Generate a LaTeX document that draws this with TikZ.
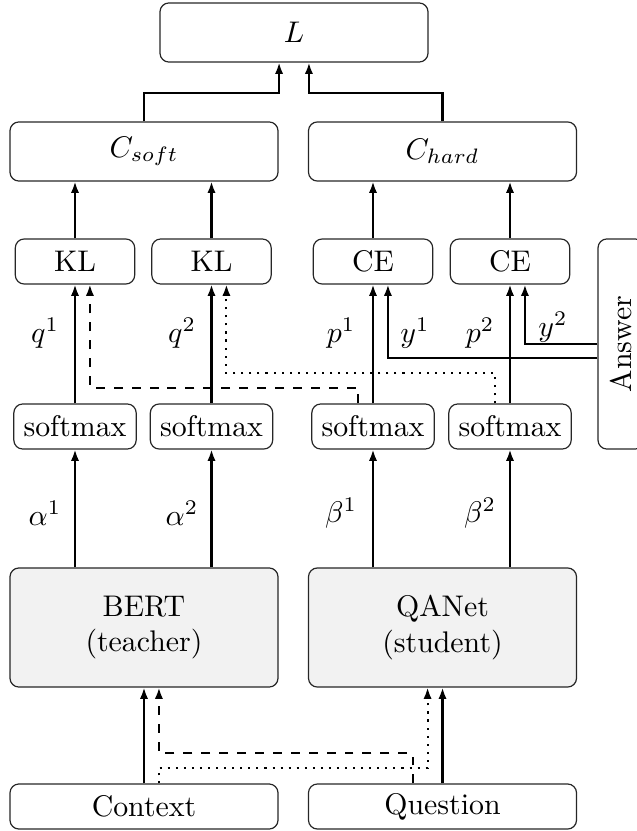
\documentclass[tikz,border=0pt]{standalone}
\usetikzlibrary{arrows.meta}
\begin{document}
\begin{tikzpicture}[x=0.335pt,y=-0.335pt]
        \tikzstyle{box}=[draw=black!85,rounded corners=3pt,inner sep=0pt,align=center]
        \tikzstyle{bigbox}=[box,minimum width=89.8pt,minimum height=19.8pt]
        \tikzstyle{lossbox}=[box,minimum width=40pt,minimum height=15.1pt]
        \tikzstyle{smbox}=[box,minimum width=41pt,minimum height=15.1pt]
        \tikzstyle{model}=[box,fill=black!5,minimum width=89.8pt,minimum height=39.9pt]
        \tikzstyle{arr}=[line width=0.7pt,-{Latex[length=3.8pt,width=2.8pt]}]

        \useasboundingbox (0,0) rectangle (637,831);

        % losses
        \node[bigbox] (loss) at (294,32.5) {$L$};
        \node[bigbox] (csoft) at (144,151.5) {$C_{soft}$};
        \node[bigbox] (chard) at (442.5,151.5) {$C_{hard}$};

        \node[lossbox] (kla) at (75,261.5) {KL};
        \node[lossbox] (klb) at (211.5,261.5) {KL};
        \node[lossbox] (cea) at (373,261.5) {CE};
        \node[lossbox] (ceb) at (510,261.5) {CE};
        \node[box,rotate=90,minimum width=70.4pt,minimum height=15.4pt] (ans) at (621,344) {Answer};

        % outputs
        \node[smbox] (sma) at (75,426.5) {softmax};
        \node[smbox] (smb) at (211.5,426.5) {softmax};
        \node[smbox] (smc) at (373,426.5) {softmax};
        \node[smbox] (smd) at (510,426.5) {softmax};

        % models and inputs
        \node[model] (bert) at (144,627.5) {BERT\\(teacher)};
        \node[model] (qanet) at (442.5,627.5) {QANet\\(student)};
        \node[box,minimum width=89.8pt,minimum height=15.1pt] (ctx) at (144,806.5) {Context};
        \node[box,minimum width=89.8pt,minimum height=15.1pt] (qst) at (442.5,806.5) {Question};

        \draw[arr] (csoft.north) |- ([xshift=-5pt]loss.south |- 0,93) -- ([xshift=-5pt]loss.south);
        \draw[arr] (chard.north) |- ([xshift=5pt]loss.south |- 0,93) -- ([xshift=5pt]loss.south);
        \draw[arr] (kla.north) -- (kla.north |- csoft.south);
        \draw[arr] (klb.north) -- (klb.north |- csoft.south);
        \draw[arr] (cea.north) -- (cea.north |- chard.south);
        \draw[arr] (ceb.north) -- (ceb.north |- chard.south);

        \draw[arr] (sma) -- (kla);
        \draw[arr] (smb) -- (klb);
        \draw[arr] (smc) -- (cea);
        \draw[arr] (smd) -- (ceb);
        \draw[arr,dashed] ([xshift=-5pt]smc.north) |- ([xshift=5pt]kla.south |- 0,388) -- ([xshift=5pt]kla.south);
        \draw[arr,dotted] ([xshift=-5pt]smd.north) |- ([xshift=5pt]klb.south |- 0,373) -- ([xshift=5pt]klb.south);
        \draw[arr] (ans.north |- 0,358) -| ([xshift=5pt]cea.south);
        \draw[arr] (ans.north |- 0,344) -| ([xshift=5pt]ceb.south);

        \draw[arr] (sma.south |- bert.north) -- (sma.south);
        \draw[arr] (smb.south |- bert.north) -- (smb.south);
        \draw[arr] (smc.south |- qanet.north) -- (smc.south);
        \draw[arr] (smd.south |- qanet.north) -- (smd.south);

        \draw[arr] (ctx) -- (bert);
        \draw[arr] (qst) -- (qanet);
        \draw[arr,dashed] ([xshift=-10pt]qst.north) |- ([xshift=5pt]bert.south |- 0,753) -- ([xshift=5pt]bert.south);
        \draw[arr,dotted] ([xshift=5pt]ctx.north) |- ([xshift=-5pt]qanet.south |- 0,768) -- ([xshift=-5pt]qanet.south);

        % labels
        \node (lqa) at (45,333) {$q^1$};
        \node (lqb) at (182,333) {$q^2$};
        \node (lpa) at (341,333) {$p^1$};
        \node (lya) at (415,333) {$y^1$};
        \node (lpb) at (480,333) {$p^2$};
        \node (lyb) at (553,327) {$y^2$};
        \node (laa) at (45,513) {$\alpha^1$};
        \node (lab) at (182,513) {$\alpha^2$};
        \node (lba) at (341,513) {$\beta^1$};
        \node (lbb) at (480,513) {$\beta^2$};
    \end{tikzpicture}
\end{document}
